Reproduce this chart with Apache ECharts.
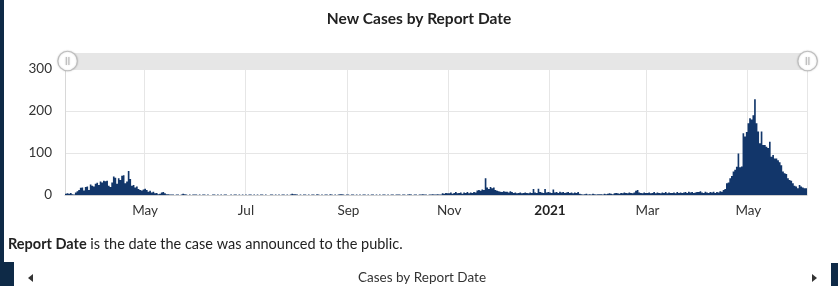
<!DOCTYPE html>
<html>
<head>
<meta charset="utf-8">
<script src="https://cdn.jsdelivr.net/npm/echarts@6/dist/echarts.min.js"></script>
<style>
  html, body { margin: 0; padding: 0; background: #fff; }
  #chart { width: 838px; height: 286px; }
</style>
</head>
<body>
<div id="chart"></div>
<script>
// daily new cases by report date, first day is 2020-03-14
const firstDay = [2020, 2, 14]
const cases2020Mar = [3, 4, 3, 5, 2, 1, 6, 9, 12, 17, 18, 11, 19, 20, 12, 25, 22, 20]
const cases2020Apr = [27, 29, 24, 32, 30, 34, 33, 34, 22, 19, 30, 44, 41, 27, 40, 36, 46, 47, 28, 32,
  57, 38, 22, 24, 18, 20, 14, 12, 11, 13]
const cases2020May = [15, 12, 8, 10, 6, 8, 4, 5, 2, 3, 6, 7, 4, 2, 2, 1, 1, 1, 0, 1,
  1, 0, 1, 3, 2, 1, 0, 1, 0, 1, 1]
const cases2020Jun = [1, 0, 1, 0, 1, 1, 0, 1, 0, 0, 1, 1, 0, 1, 0, 1, 0, 1, 1, 0,
  0, 1, 0, 1, 1, 0, 1, 0, 1, 0]
const cases2020Jul = [1, 0, 1, 1, 0, 1, 0, 1, 0, 1, 1, 0, 1, 0, 0, 1, 1, 0, 1, 0,
  1, 0, 1, 1, 0, 1, 0, 1, 3, 2, 2]
const cases2020Aug = [1, 0, 1, 0, 1, 1, 0, 1, 0, 1, 1, 0, 2, 1, 0, 1, 0, 1, 1, 0,
  2, 1, 0, 1, 0, 1, 2, 2, 1, 0, 1]
const cases2020Sep = [1, 0, 1, 1, 0, 1, 0, 1, 0, 1, 1, 0, 1, 0, 1, 1, 0, 1, 0, 1,
  0, 1, 1, 0, 1, 0, 1, 1, 0, 1]
const cases2020Oct = [1, 1, 0, 1, 1, 0, 1, 2, 1, 0, 1, 1, 0, 1, 1, 2, 1, 1, 0, 1,
  1, 2, 1, 1, 2, 1, 1, 4, 3, 5, 4]
const cases2020Nov = [4, 6, 3, 5, 7, 4, 5, 6, 3, 6, 5, 7, 4, 6, 5, 7, 6, 11, 12, 10,
  13, 12, 40, 18, 14, 19, 16, 18, 12, 10]
const cases2020Dec = [9, 8, 7, 9, 8, 8, 6, 9, 7, 5, 6, 4, 5, 6, 4, 5, 6, 5, 4, 6,
  5, 14, 6, 5, 15, 7, 6, 5, 14, 6, 7]
const cases2021Jan = [6, 5, 13, 6, 7, 5, 8, 6, 7, 5, 6, 7, 5, 6, 4, 6, 5, 7, 3, 2,
  1, 2, 3, 1, 2, 1, 3, 2, 1, 2, 2]
const cases2021Feb = [2, 1, 3, 2, 3, 4, 3, 2, 4, 5, 4, 3, 5, 4, 6, 5, 4, 6, 5, 4,
  6, 10, 12, 6, 5, 4, 6, 5]
const cases2021Mar = [5, 6, 4, 5, 7, 4, 6, 5, 4, 6, 5, 7, 4, 6, 5, 5, 6, 4, 7, 5,
  6, 5, 6, 7, 5, 8, 6, 7, 5, 6, 7]
const cases2021Apr = [7, 9, 6, 5, 8, 6, 5, 7, 6, 8, 5, 7, 6, 9, 8, 12, 14, 28, 30, 40,
  45, 56, 60, 67, 99, 66, 68, 147, 139, 150]
const cases2021May = [171, 183, 180, 190, 228, 171, 151, 123, 151, 119, 119, 115, 112, 127, 91, 95, 87, 87, 83, 78,
  71, 56, 52, 50, 40, 36, 34, 28, 22, 20, 16]
const cases2021Jun = [24, 20, 18, 16, 16]

const tickDates = ['2020-05-01', '2020-07-01', '2020-09-01', '2020-11-01', '2021-01-01', '2021-03-01', '2021-05-01']
const tickLabels = ['May', 'Jul', 'Sep', 'Nov', '2021', 'Mar', 'May']
const yTicks = [0, 100, 200, 300]

const values = [].concat(
  cases2020Mar, cases2020Apr, cases2020May, cases2020Jun, cases2020Jul, cases2020Aug,
  cases2020Sep, cases2020Oct, cases2020Nov, cases2020Dec, cases2021Jan, cases2021Feb,
  cases2021Mar, cases2021Apr, cases2021May, cases2021Jun
)

const day0 = Date.UTC(firstDay[0], firstDay[1], firstDay[2])
const dates = values.map((v, i) => new Date(day0 + i * 86400000).toISOString().slice(0, 10))

const isTick = (idx, val) => tickDates.indexOf(val) !== -1
const navy = '#12366a'
const font = 'Lato, "Open Sans", sans-serif'

const chart = echarts.init(document.getElementById('chart'))

chart.setOption({
  backgroundColor: '#ffffff',
  animation: false,
  textStyle: { fontFamily: font },
  title: {
    text: 'New Cases by Report Date',
    left: 'center',
    top: 6,
    textStyle: { fontSize: 15.5, fontWeight: 'bold', color: '#222', fontFamily: font }
  },
  grid: { left: 65, right: 31, top: 69, bottom: 91, containLabel: false },
  dataZoom: [{
    type: 'slider',
    xAxisIndex: 0,
    start: 0,
    end: 100,
    left: 65,
    right: 31,
    top: 53,
    height: 16,
    showDetail: false,
    showDataShadow: false,
    brushSelect: false,
    moveHandleSize: 0,
    backgroundColor: '#e6e6e6',
    fillerColor: '#e6e6e6',
    borderColor: 'transparent',
    handleIcon: 'path://M0,512A512,512,0,1,1,1024,512A512,512,0,1,1,0,512Z M445,300L445,724 M579,300L579,724',
    handleSize: '122%',
    handleStyle: { color: '#ffffff', borderColor: '#bdbdbd', borderWidth: 1.2, shadowBlur: 2, shadowColor: 'rgba(0,0,0,0.15)' },
    emphasis: { handleStyle: { color: '#ffffff', borderColor: '#bdbdbd' } }
  }],
  xAxis: {
    type: 'category',
    data: dates,
    boundaryGap: true,
    axisLine: { lineStyle: { color: '#cfcfcf' } },
    axisTick: { alignWithLabel: true, interval: isTick, length: 5, lineStyle: { color: '#cfcfcf' } },
    splitLine: { show: true, interval: isTick, lineStyle: { color: '#e6e6e6' } },
    axisLabel: {
      interval: isTick,
      margin: 9,
      fontSize: 13.5,
      color: '#333',
      formatter: val => {
        const k = tickDates.indexOf(val)
        if (k === -1) return ''
        return tickLabels[k].length === 4 ? '{y|' + tickLabels[k] + '}' : tickLabels[k]
      },
      rich: { y: { fontWeight: 'bold', fontSize: 13.5, color: '#222', fontFamily: font } }
    }
  },
  yAxis: {
    type: 'value',
    min: yTicks[0],
    max: yTicks[yTicks.length - 1],
    interval: yTicks[1] - yTicks[0],
    axisLine: { show: true, lineStyle: { color: '#d8d8d8' } },
    axisTick: { show: false },
    axisLabel: { fontSize: 13.5, color: '#333', margin: 13 },
    splitLine: { lineStyle: { color: '#e6e6e6' } }
  },
  series: [{
    name: 'New Cases',
    type: 'bar',
    data: values,
    barCategoryGap: '0%',
    // large mode fills all bars as one path, so neighbouring 1.6px bars have no seams
    large: true,
    largeThreshold: 100,
    itemStyle: { color: navy }
  }],
  graphic: [
    { type: 'rect', shape: { x: 0, y: 0, width: 4, height: 262 }, style: { fill: '#0e2a47' } },
    { type: 'rect', shape: { x: 0, y: 262, width: 14, height: 24 }, style: { fill: '#0e2a47' } },
    { type: 'rect', shape: { x: 831, y: 263, width: 7, height: 23 }, style: { fill: '#0e2a47' } },
    {
      type: 'text',
      left: 8,
      top: 237,
      style: {
        text: '{b|Report Date} is the date the case was announced to the public.',
        fontSize: 14.5,
        fontFamily: font,
        fill: '#222',
        rich: { b: { fontWeight: 'bold', fontSize: 14.5, fontFamily: font, fill: '#222' } }
      }
    },
    {
      type: 'text',
      x: 422,
      y: 278,
      style: {
        text: 'Cases by Report Date',
        fontSize: 13.5,
        fontFamily: font,
        fill: '#333',
        align: 'center',
        verticalAlign: 'middle'
      }
    },
    { type: 'polygon', shape: { points: [[28, 278], [33, 274], [33, 282]] }, style: { fill: '#333' } },
    { type: 'polygon', shape: { points: [[812, 274], [817, 278], [812, 282]] }, style: { fill: '#333' } }
  ]
})

window.addEventListener('resize', () => chart.resize())
</script>
</body>
</html>
